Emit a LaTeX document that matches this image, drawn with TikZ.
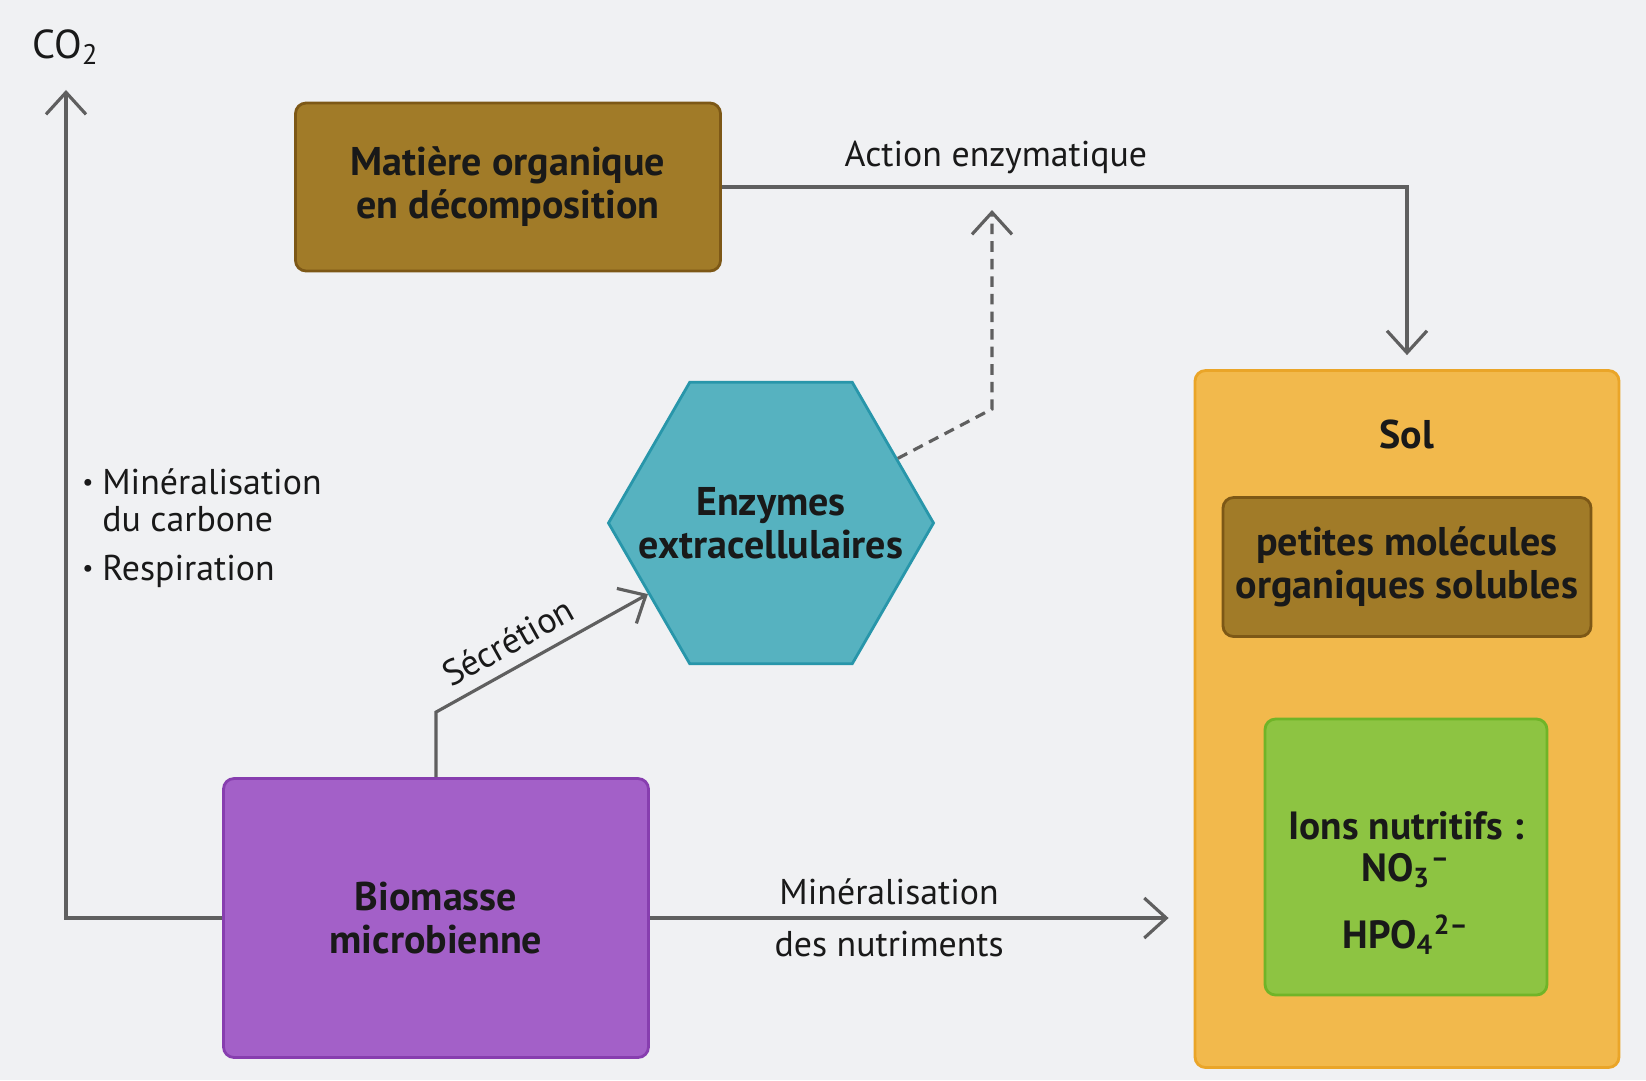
\documentclass[tikz,border=0pt]{standalone}
\usepackage{fontspec}
\setmainfont{PT Sans}
\usepackage{tikz}
\usetikzlibrary{positioning,arrows.meta,shapes.geometric,calc}
\definecolor{bgpage}{RGB}{240,241,243}
\definecolor{brownbox}{RGB}{161,123,40}
\definecolor{brownline}{RGB}{125,88,22}
\definecolor{tealbox}{RGB}{86,178,192}
\definecolor{tealline}{RGB}{40,150,170}
\definecolor{purplebox}{RGB}{163,96,200}
\definecolor{purpleline}{RGB}{135,62,175}
\definecolor{solbox}{RGB}{242,185,76}
\definecolor{solline}{RGB}{234,165,40}
\definecolor{ionbox}{RGB}{141,196,66}
\definecolor{ionline}{RGB}{112,180,40}
\definecolor{arrowgray}{RGB}{95,95,95}
\tikzset{
  figbox/.style={draw, line width=0.8pt, rounded corners=3pt, align=center,
    font=\fontsize{11.4}{12.2}\selectfont\bfseries, text=black!90, inner sep=3pt},
  figarrow/.style={-{Straight Barb[length=2.2mm, width=4mm]}, line width=0.9pt, draw=arrowgray},
  figlabel/.style={font=\fontsize{10.2}{10.8}\selectfont, align=center, text=black!90},
  figbold/.style={font=\fontsize{11.4}{12.2}\selectfont\bfseries, align=center, text=black!90},
}

\begin{document}
\begin{tikzpicture}[x=0.1mm, y=-0.1mm]
  \fill[bgpage] (0,0) rectangle (1646,1080);
  \useasboundingbox (0,0) rectangle (1646,1080);
  % boxes
  \node[figbox, fill=brownbox, draw=brownline, minimum width=42.5mm, minimum height=16.8mm] (matiere) at (508,187) {Matière organique\\en décomposition};
  \node[regular polygon, regular polygon sides=6, minimum size=32.5mm, inner sep=0pt, line width=0.8pt, fill=tealbox, draw=tealline] (enz) at (771,523) {};
  \node[figbold] (enztext) at (enz.center) {Enzymes\\extracellulaires};
  \node[figbox, fill=purplebox, draw=purpleline, minimum width=42.5mm, minimum height=27.9mm] (bio) at (436,918) {Biomasse\\microbienne};
  \node[figbox, fill=solbox, draw=solline, minimum width=42.4mm, minimum height=69.7mm] (sol) at (1407,719) {};
  \node[figbold] (sollab) at (1407,434) {Sol};
  \node[figbox, fill=brownbox, draw=brownline, minimum width=36.8mm, minimum height=13.9mm] (mol) at (1407,567) {petites molécules\\organiques solubles};
  \node[figbox, fill=ionbox, draw=ionline, minimum width=28.2mm, minimum height=27.6mm] (ions) at (1406,857) {};
  \node[figbold, font=\fontsize{11.2}{12}\selectfont\bfseries, below=-5.8mm of ions.center] (iontext) {Ions nutritifs :\\NO\textsubscript{3}\textsuperscript{–}\\[7pt]HPO\textsubscript{4}\textsuperscript{2–}};
  % labels
  \node[figlabel, font=\fontsize{11.5}{12}\selectfont] (co2) at (66,47) {CO\textsubscript{2}};
  \node[figlabel, anchor=north west, align=left] (proc) at (70,455) {\begin{tabular}{@{}l@{\hspace{2.5pt}}l@{}}\raisebox{0.2ex}{\scriptsize\textbullet} & Minéralisation\\ & du carbone\\[3pt] \raisebox{0.2ex}{\scriptsize\textbullet} & Respiration\end{tabular}};
  \coordinate (actbend) at (992,409);
  \coordinate (actpt) at (992,210);
  % arrows
  \draw[figarrow, shorten >=1.4mm] (matiere.east) -| node[figlabel, above, pos=0.2]{Action enzymatique} (sol.north);
  \draw[figarrow, dash pattern=on 3pt off 2pt] (enz.27) -- (actbend) -- (actpt);
  \draw[figarrow] (bio.north) -- ++(0,-65) -- node[figlabel, sloped, above, pos=0.4]{Sécrétion} (enz.210);
  \draw[figarrow, shorten >=2.5mm] (bio.east) -- (bio.east -| sol.west)
    node[figlabel, above, pos=0.44]{Minéralisation}
    node[figlabel, below, pos=0.44]{des nutriments};
  \draw[figarrow, shorten >=1.3mm] (bio.west) -| (co2.south);
\end{tikzpicture}
\end{document}
